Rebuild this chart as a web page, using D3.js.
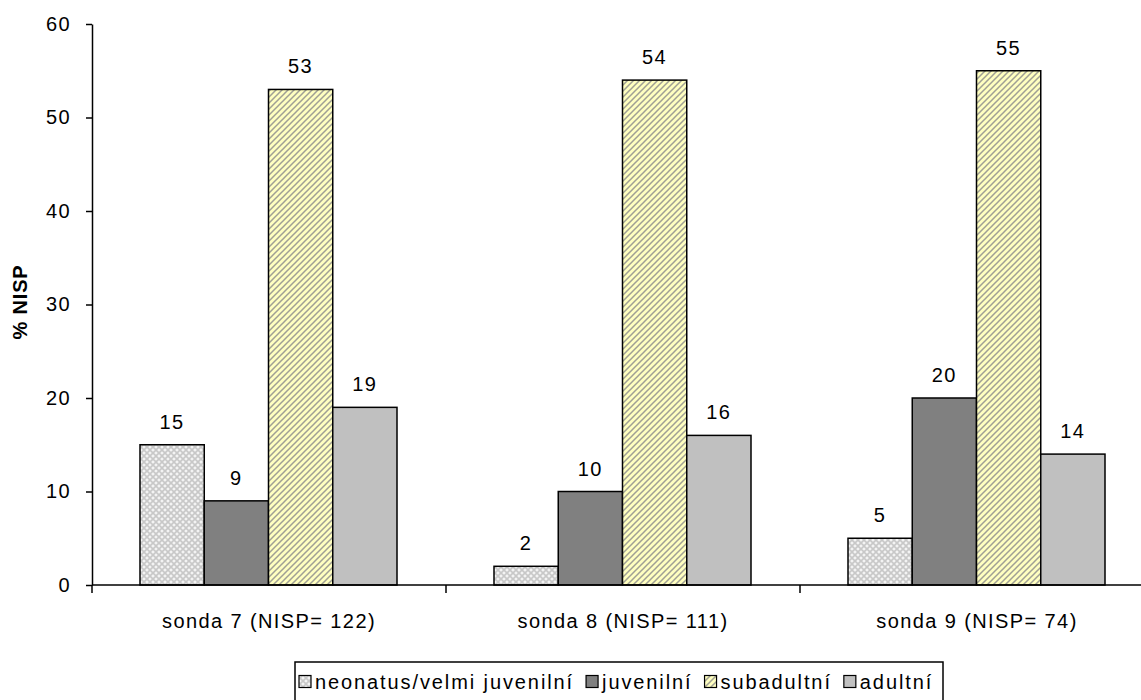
<!DOCTYPE html>
<html>
<head>
<meta charset="utf-8">
<script src="https://cdn.jsdelivr.net/npm/d3@7"></script>
<style>
  html, body { margin: 0; padding: 0; background: #fff; }
  svg { display: block; font-family: "Liberation Sans", Arial, sans-serif; }
</style>
</head>
<body>
<svg id="chart" width="1141" height="700"></svg>
<script>
// ---- data ----
const categories = ["sonda 7 (NISP= 122)", "sonda 8 (NISP= 111)", "sonda 9 (NISP= 74)"];
const seriesNames = ["neonatus/velmi juvenilní", "juvenilní", "subadultní", "adultní"];
const neonatus   = [15, 2, 5];
const juvenilni  = [9, 10, 20];
const subadultni = [53, 54, 55];
const adultni    = [19, 16, 14];
const yTicks = [0, 10, 20, 30, 40, 50, 60];
const yLabel = "% NISP";

const seriesValues = [neonatus, juvenilni, subadultni, adultni];

// ---- layout ----
const FONT = "Liberation Sans, Arial, sans-serif";
const FS = 20, LS = 1.4;
const svg = d3.select("#chart");
const x0 = 92, x1 = 1154, yTop = 24, yBot = 585;

const defs = svg.append("defs");
// checkered light pattern
const p1 = defs.append("pattern").attr("id", "pNeo").attr("patternUnits", "userSpaceOnUse")
  .attr("width", 6).attr("height", 6);
p1.append("rect").attr("width", 6).attr("height", 6).attr("fill", "#f4f4f4");
p1.append("path").attr("d", "M0,0L6,6M6,0L0,6").attr("stroke", "#c8c8c8").attr("stroke-width", 1.6);
// yellow diagonal stripes
const p3 = defs.append("pattern").attr("id", "pSub").attr("patternUnits", "userSpaceOnUse")
  .attr("width", 6).attr("height", 6);
p3.append("rect").attr("width", 6).attr("height", 6).attr("fill", "#ffffc0");
p3.append("path").attr("d", "M-1,7L7,-1M-4,4L4,-4M2,10L10,2").attr("stroke", "#a0a094").attr("stroke-width", 1.5);

const fills = ["url(#pNeo)", "#808080", "url(#pSub)", "#c0c0c0"];

const x = d3.scaleBand().domain(categories).range([x0, x1]).paddingInner(0).paddingOuter(0);
const xs = d3.scaleBand().domain(d3.range(seriesNames.length))
  .range([48, x.bandwidth() - 49]).padding(0);
const y = d3.scaleLinear().domain([0, 60]).range([yBot, yTop]);

// bars
const g = svg.append("g");
categories.forEach((c, ci) => {
  seriesValues.forEach((vals, si) => {
    const v = vals[ci];
    const bx = x(c) + xs(si);
    g.append("rect")
      .attr("x", bx).attr("y", y(v))
      .attr("width", xs.bandwidth()).attr("height", y(0) - y(v))
      .attr("fill", fills[si]).attr("stroke", "#000").attr("stroke-width", 1.5);
    g.append("text")
      .attr("x", bx + xs.bandwidth() / 2).attr("y", y(v) - 16)
      .attr("text-anchor", "middle").attr("font-size", FS).attr("letter-spacing", LS)
      .attr("fill", "#000")
      .text(v);
  });
});

// y axis
const yAxis = d3.axisLeft(y).tickValues(yTicks).tickSize(6).tickPadding(15).tickSizeOuter(0);
const yg = svg.append("g").attr("transform", `translate(${x0},0)`).call(yAxis);
yg.select(".domain").attr("stroke", "#000").attr("stroke-width", 1.5);
yg.selectAll(".tick line").attr("stroke", "#000").attr("stroke-width", 1.5);
yg.selectAll(".tick text").attr("font-size", FS).attr("fill", "#000")
  .attr("letter-spacing", LS).attr("font-family", FONT);

// x axis line + ticks at category boundaries
const xg = svg.append("g");
xg.append("line").attr("x1", x0).attr("x2", x1).attr("y1", yBot).attr("y2", yBot)
  .attr("stroke", "#000").attr("stroke-width", 1.5);
categories.forEach(c => {
  xg.append("line").attr("x1", x(c)).attr("x2", x(c)).attr("y1", yBot).attr("y2", yBot + 8)
    .attr("stroke", "#000").attr("stroke-width", 1.5);
  xg.append("text").attr("x", x(c) + x.bandwidth() / 2).attr("y", 628)
    .attr("text-anchor", "middle").attr("font-size", FS).attr("fill", "#000")
    .attr("letter-spacing", LS)
    .text(c);
});

// y label
svg.append("text").attr("transform", "translate(27,302) rotate(-90)")
  .attr("text-anchor", "middle").attr("font-size", FS).attr("font-weight", "bold")
  .attr("letter-spacing", 0.8)
  .text(yLabel);

// legend
const lg = svg.append("g");
lg.append("rect").attr("x", 295).attr("y", 662).attr("width", 648).attr("height", 60)
  .attr("fill", "#fff").attr("stroke", "#000").attr("stroke-width", 1.5);
let lx = 299;
seriesNames.forEach((n, i) => {
  lg.append("rect").attr("x", lx).attr("y", 675.5).attr("width", 12).attr("height", 12)
    .attr("fill", fills[i]).attr("stroke", "#000").attr("stroke-width", 1.2);
  const t = lg.append("text").attr("x", lx + 16).attr("y", 689).attr("font-size", FS)
    .attr("letter-spacing", 1.9).attr("fill", "#000").text(n);
  const w = t.node().getComputedTextLength();
  lx = lx + 16 + w + 12;
});
</script>
</body>
</html>
